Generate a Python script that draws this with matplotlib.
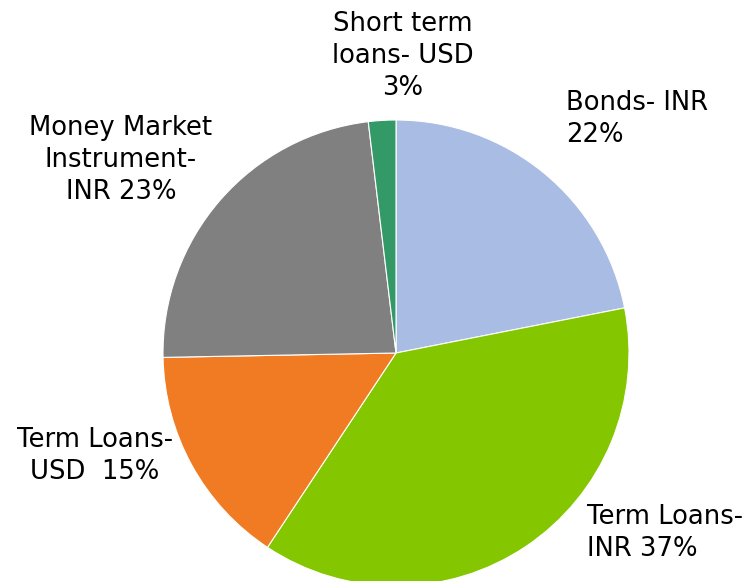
import matplotlib.pyplot as plt

# slice shares and their printed labels
categories = ['Bonds- INR', 'Term Loans- INR', 'Term Loans- USD',
              'Money Market Instrument- INR', 'Short term loans- USD']
shares = [21.9, 37.4, 15.4, 23.4, 1.9]
label_texts = ['Bonds- INR\n22%', 'Term Loans-\nINR 37%', 'Term Loans-\nUSD  15%',
               'Money Market\nInstrument-\nINR 23%', 'Short term\nloans- USD\n3%']
colors = ['#A9BCE3', '#84C700', '#F07B22', '#808080', '#339966']

H = 581  # image height, used to turn pixel rows into axis y

fig = plt.figure(figsize=(7.55, 5.81), dpi=100)
ax = fig.add_axes([0, 0, 1, 1])

# pie drawn in pixel-like coordinates so it sits where the original does
ax.pie(shares, colors=colors, startangle=90, counterclock=False,
       center=(396, H - 353), radius=233,
       wedgeprops=dict(edgecolor='white', linewidth=0.8))
ax.set_xlim(0, 755)
ax.set_ylim(0, H)
ax.set_aspect('equal')
ax.axis('off')

# label placement: (x, pixel row, horizontal alignment)
label_pos = [(566, 119, 'left'), (587, 533, 'left'), (95, 456, 'center'),
             (121, 160, 'center'), (403, 56, 'center')]
for txt, (x, y, ha) in zip(label_texts, label_pos):
    ax.text(x, H - y, txt, ha=ha, va='center', multialignment='center' if ha == 'center' else 'left',
            fontsize=18.6, family='DejaVu Sans', color='black', linespacing=1.3)

fig.savefig('out.png', dpi=100)
